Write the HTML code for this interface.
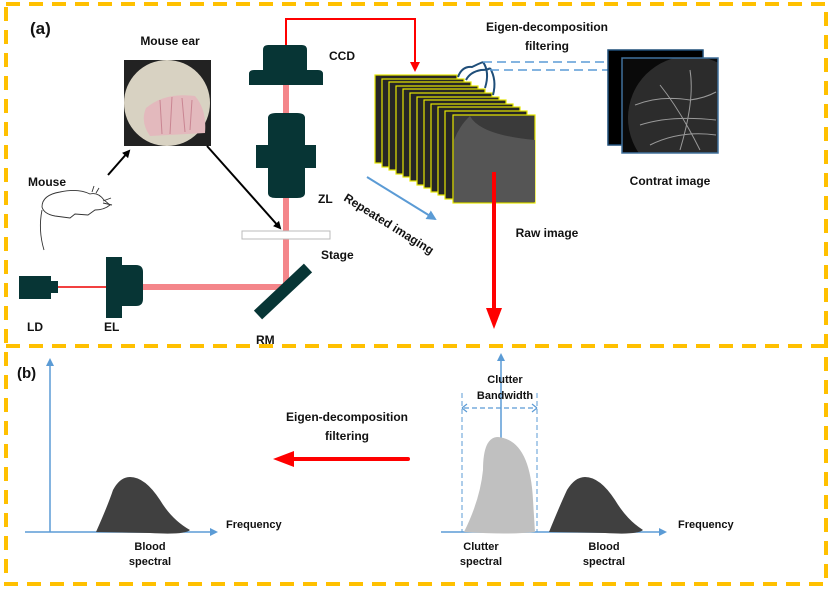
<!DOCTYPE html>
<html><head><meta charset="utf-8"><style>
html,body{margin:0;padding:0;background:#fff}
svg{display:block}
text{font-family:"Liberation Sans",sans-serif;font-weight:bold;fill:#111}
</style></head><body>
<svg width="832" height="593" viewBox="0 0 832 593" xmlns="http://www.w3.org/2000/svg">
<defs>
<marker id="ab" markerWidth="8" markerHeight="8" refX="6" refY="4" orient="auto" markerUnits="userSpaceOnUse"><path d="M0,0 L8,4 L0,8 z" fill="#000"/></marker>
<marker id="ar" markerWidth="10" markerHeight="10" refX="8" refY="5" orient="auto" markerUnits="userSpaceOnUse"><path d="M0,0 L10,5 L0,10 z" fill="#f00"/></marker>
<marker id="abl" markerWidth="10" markerHeight="10" refX="8" refY="5" orient="auto" markerUnits="userSpaceOnUse"><path d="M0,0 L10,5 L0,10 z" fill="#5b9bd5"/></marker>
<marker id="abs" markerWidth="8" markerHeight="8" refX="6" refY="4" orient="auto" markerUnits="userSpaceOnUse"><path d="M0,0 L8,4 L0,8 z" fill="#5b9bd5"/></marker>
<clipPath id="cc"><rect x="622" y="58" width="96" height="95"/></clipPath>
</defs>
<rect x="6" y="4" width="820" height="580" fill="none" stroke="#ffc000" stroke-width="4" stroke-dasharray="14,9"/>
<line x1="6" y1="346" x2="826" y2="346" stroke="#ffc000" stroke-width="4" stroke-dasharray="14,9"/>

<text x="30" y="34" font-size="17">(a)</text>
<text x="170" y="45" font-size="12" text-anchor="middle">Mouse ear</text>
<rect x="124" y="60" width="87" height="86" fill="#222"/>
<circle cx="167" cy="103" r="43" fill="#d8d2c2"/>
<path d="M146,108 Q165,92 195,96 Q207,110 205,133 L150,136 Q140,122 146,108z" fill="#e3b9bd"/>
<path d="M160,100 L162,134 M172,97 L170,134 M182,98 L185,132 M192,100 L190,130" stroke="#c98592" stroke-width="1" fill="none"/>

<text x="28" y="186" font-size="12">Mouse</text>
<g fill="none" stroke="#333" stroke-width="0.9">
<path d="M42,207 Q42,195 60,192 Q78,188 90,194 Q98,192 104,200 L110,205 Q104,210 95,210 L88,215 L75,214 L70,218 L55,216 Q44,214 42,207z"/>
<path d="M42,210 Q38,230 44,250"/>
<path d="M103,201 l8,-3 M103,203 l9,2 M92,192 l2,-6 M96,193 l3,-5"/>
</g>
<line x1="108" y1="175" x2="129" y2="151" stroke="#000" stroke-width="2" marker-end="url(#ab)"/>
<line x1="207" y1="146" x2="280" y2="228" stroke="#000" stroke-width="2" marker-end="url(#ab)"/>

<rect x="283" y="85" width="6" height="205" fill="#f4868a"/>
<rect x="143" y="284" width="146" height="6" fill="#f4868a"/>
<line x1="58" y1="287" x2="106" y2="287" stroke="#e00" stroke-width="1.5"/>
<path d="M263,50 Q263,45 268,45 L302,45 Q307,45 307,50 L307,70 L318,70 Q323,70 323,74 L323,85 L249,85 L249,74 Q249,70 254,70 L263,70z" fill="#073535"/>
<text x="329" y="60" font-size="12">CCD</text>
<polyline points="286,45 286,19 415,19 415,70" fill="none" stroke="#f00" stroke-width="2" marker-end="url(#ar)"/>
<path d="M268,118 Q268,113 276,113 L297,113 Q305,113 305,118 L305,145 L316,145 L316,168 L305,168 L305,193 Q305,198 297,198 L276,198 Q268,198 268,193 L268,168 L256,168 L256,145 L268,145z" fill="#073535"/>
<text x="318" y="203" font-size="12">ZL</text>
<rect x="242" y="231" width="88" height="8" fill="#fff" stroke="#bbb"/>
<text x="321" y="259" font-size="12">Stage</text>
<line x1="258" y1="315" x2="308" y2="268" stroke="#073535" stroke-width="12"/>
<text x="256" y="344" font-size="12">RM</text>
<path d="M106,257 L122,257 L122,265 L136,265 Q143,265 143,272 L143,299 Q143,306 136,306 L122,306 L122,318 L106,318z" fill="#073535"/>
<text x="104" y="331" font-size="12">EL</text>
<rect x="19" y="276" width="32" height="23" fill="#073535"/>
<rect x="51" y="281" width="7" height="12" fill="#073535"/>
<text x="27" y="331" font-size="12">LD</text>

<g stroke="#e6e600" stroke-width="1.2" fill="#262626">
<rect x="375" y="75" width="82" height="88"/>
<rect x="382" y="79" width="82" height="88"/>
<rect x="389" y="82" width="82" height="88"/>
<rect x="396" y="86" width="82" height="88"/>
<rect x="403" y="89" width="82" height="88"/>
<rect x="410" y="93" width="82" height="88"/>
<rect x="417" y="97" width="82" height="88"/>
<rect x="424" y="100" width="82" height="88"/>
<rect x="431" y="104" width="82" height="88"/>
<rect x="438" y="107" width="82" height="88"/>
<rect x="445" y="111" width="82" height="88"/>
<rect x="453" y="115" width="82" height="88" fill="#3a3a3a"/>
</g>
<path d="M470,116 Q480,135 535,140 L535,202 L454,202 L454,140 Q460,125 470,116z" fill="#555"/>
<g fill="none" stroke="#1f4e79" stroke-width="2">
<path d="M458,77 Q462,66 472,67 Q478,64 483,62 M466,80 Q470,72 481,70 Q488,70 490,68 M483,62 Q490,72 485,88 M490,68 Q497,80 493,95"/>
</g>
<line x1="483" y1="62" x2="608" y2="62" stroke="#5b9bd5" stroke-width="1.5" stroke-dasharray="9,5"/>
<line x1="490" y1="70" x2="622" y2="70" stroke="#5b9bd5" stroke-width="1.5" stroke-dasharray="9,5"/>
<text x="547" y="31" font-size="12" text-anchor="middle">Eigen-decomposition</text>
<text x="547" y="50" font-size="12" text-anchor="middle">filtering</text>
<rect x="608" y="50" width="95" height="95" fill="#000" stroke="#1f4e79" stroke-width="1.5"/>
<rect x="622" y="58" width="96" height="95" fill="#0a0a0a"/>
<g clip-path="url(#cc)">
<circle cx="690" cy="118" r="62" fill="#2c2c2c"/>
<g stroke="#9a9a9a" stroke-width="1" fill="none">
<path d="M635,105 Q660,95 690,100 Q705,98 716,92 M640,125 Q670,115 716,120 M650,145 Q680,130 716,135 M660,85 Q680,110 700,150 M690,70 Q695,100 680,150"/>
</g>
</g>
<rect x="622" y="58" width="96" height="95" fill="none" stroke="#41719c" stroke-width="1.5"/>
<text x="670" y="185" font-size="12" text-anchor="middle">Contrat image</text>
<text x="547" y="237" font-size="12" text-anchor="middle">Raw image</text>
<line x1="494" y1="172" x2="494" y2="310" stroke="#f00" stroke-width="4"/>
<path d="M486,308 L502,308 L494,329z" fill="#f00"/>
<line x1="367" y1="177" x2="435" y2="219" stroke="#5b9bd5" stroke-width="2" marker-end="url(#abl)"/>
<text x="343" y="200" font-size="12" transform="rotate(32 343 200)">Repeated imaging</text>

<text x="17" y="378" font-size="15">(b)</text>
<line x1="50" y1="532" x2="50" y2="360" stroke="#5b9bd5" stroke-width="1.5" marker-end="url(#abs)"/>
<line x1="25" y1="532" x2="216" y2="532" stroke="#5b9bd5" stroke-width="1.5" marker-end="url(#abs)"/>
<path d="M96,532 Q108,505 113,490 Q120,477 130,477 Q145,477 160,500 Q172,520 190,530 Q185,535 150,533 L96,532z" fill="#404040"/>
<text x="226" y="528" font-size="11">Frequency</text>
<text x="150" y="550" font-size="11" text-anchor="middle">Blood</text>
<text x="150" y="565" font-size="11" text-anchor="middle">spectral</text>

<text x="347" y="421" font-size="12" text-anchor="middle">Eigen-decomposition</text>
<text x="347" y="440" font-size="12" text-anchor="middle">filtering</text>
<line x1="408" y1="459" x2="290" y2="459" stroke="#f00" stroke-width="4" stroke-linecap="round"/>
<path d="M294,451 L294,467 L273,459z" fill="#f00"/>

<line x1="501" y1="532" x2="501" y2="355" stroke="#5b9bd5" stroke-width="1.5" marker-end="url(#abs)"/>
<line x1="441" y1="532" x2="665" y2="532" stroke="#5b9bd5" stroke-width="1.5" marker-end="url(#abs)"/>
<path d="M464,532 Q480,500 483,470 Q483,437 498,437 Q530,440 533,500 L535,532 Q510,535 464,532z" fill="#c0c0c0"/>
<line x1="462" y1="393" x2="462" y2="532" stroke="#5b9bd5" stroke-width="1" stroke-dasharray="5,3"/>
<line x1="537" y1="393" x2="537" y2="532" stroke="#5b9bd5" stroke-width="1" stroke-dasharray="5,3"/>
<line x1="464" y1="408" x2="535" y2="408" stroke="#5b9bd5" stroke-width="1.2" stroke-dasharray="5,3"/>
<path d="M462,408 l5,-4 M462,408 l5,4 M537,408 l-5,-4 M537,408 l-5,4" stroke="#5b9bd5" stroke-width="1.2"/>
<text x="505" y="383" font-size="11" text-anchor="middle">Clutter</text>
<text x="505" y="399" font-size="11" text-anchor="middle">Bandwidth</text>
<path d="M549,532 Q560,505 567,490 Q575,477 585,477 Q600,477 615,500 Q627,520 643,530 Q638,535 605,533 L549,532z" fill="#404040"/>
<text x="678" y="528" font-size="11">Frequency</text>
<text x="481" y="550" font-size="11" text-anchor="middle">Clutter</text>
<text x="481" y="565" font-size="11" text-anchor="middle">spectral</text>
<text x="604" y="550" font-size="11" text-anchor="middle">Blood</text>
<text x="604" y="565" font-size="11" text-anchor="middle">spectral</text>
</svg>
</body></html>
